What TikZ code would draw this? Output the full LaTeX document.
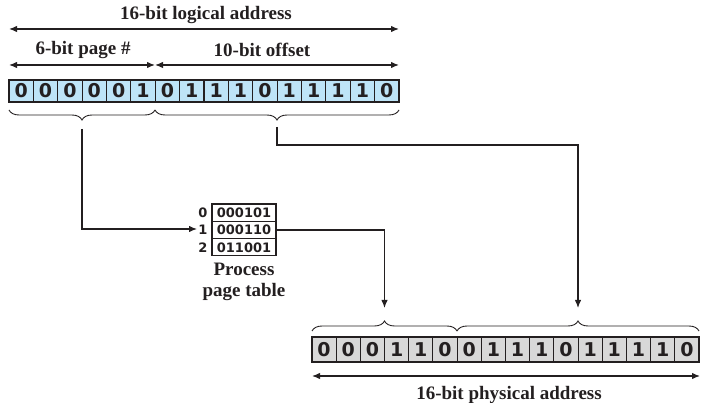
\documentclass[tikz,border=0pt]{standalone}
\usepackage{fontspec}
\setmainfont{Liberation Serif}
\newfontfamily\digitfont{DejaVu Sans}
\usetikzlibrary{arrows.meta,decorations.pathreplacing,calc}
\definecolor{cellblue}{RGB}{190,228,247}
\definecolor{cellgray}{RGB}{216,216,216}
\definecolor{inkc}{RGB}{35,31,32}
\begin{document}
\begin{tikzpicture}[x=1pt,y=-1pt,
  lbl/.style={font=\fontsize{19}{21}\selectfont\bfseries, text=inkc, inner sep=0pt},
  bitcell/.style={draw=inkc, line width=1.1pt, inner sep=0pt, font=\fontsize{19}{19}\selectfont\digitfont\bfseries, text=inkc},
  topcell/.style={bitcell, fill=cellblue, minimum width=24.375pt, minimum height=22pt},
  botcell/.style={bitcell, fill=cellgray, minimum width=24.1875pt, minimum height=25pt},
  rowcell/.style={draw=inkc, line width=1.1pt, inner sep=0pt, minimum width=64pt, minimum height=17.3pt, font=\fontsize{13}{13}\selectfont\digitfont\bfseries, text=inkc},
  idx/.style={inner sep=0pt, font=\fontsize{13}{13}\selectfont\digitfont\bfseries, text=inkc},
  dim/.style={{Latex[length=8pt,width=6.5pt]}-{Latex[length=8pt,width=6.5pt]}, line width=1.3pt, draw=inkc},
  conn/.style={-{Latex[length=8pt,width=6.5pt]}, line width=1.2pt, draw=inkc},
  bracestyle/.style={decorate, decoration={brace, amplitude=10pt}, draw=inkc, line width=0.9pt},
]
\useasboundingbox (0,0) rectangle (702,403);

% top register
\foreach \b [count=\i from 0] in {0,0,0,0,0,1,0,1,1,1,0,1,1,1,1,0}{
  \node[topcell] (t\i) at ({9+24.375*(\i+0.5)},91) {\b};
}
% bottom register
\foreach \b [count=\i from 0] in {0,0,0,1,1,0,0,1,1,1,0,1,1,1,1,0}{
  \node[botcell] (p\i) at ({312+24.1875*(\i+0.5)},349.5) {\b};
}

% dimension arrows
\coordinate (la) at (9,29);
\coordinate (lb) at (399,29);
\draw[dim] (la) -- (lb);
\node[lbl] (ltxt) at (206,15) {16-bit logical address};
\coordinate (pa) at (9,65);
\coordinate (pm) at (155,65);
\coordinate (pb) at (399,65);
\draw[dim] (pa) -- (pm);
\draw[dim] (pm) -- (pb);
\node[lbl] (pgtxt) at (83,50) {6-bit page \#};
\node[lbl] (oftxt) at (262,50) {10-bit offset};

\coordinate (qa) at (312,376);
\coordinate (qb) at (700,376);
\draw[dim] (qa) -- (qb);
\node[lbl] (phtxt) at (509,395) {16-bit physical address};

% braces top
\coordinate (b1s) at (9,110);
\coordinate (b1e) at (155,110);
\coordinate (b2e) at (399,110);
\draw[bracestyle, decoration={mirror}] (b1s) -- (b1e);
\draw[bracestyle, decoration={mirror}] (b1e) -- (b2e);
\coordinate (tip1) at (82,129);
\coordinate (tip2) at (277,127);

% braces bottom
\coordinate (c1s) at (312,331);
\coordinate (c1e) at (457,331);
\coordinate (c2e) at (699,331);
\draw[bracestyle] (c1s) -- (c1e);
\draw[bracestyle] (c1e) -- (c2e);
\coordinate (ctip1) at (384.5,308);
\coordinate (ctip2) at (578,308);

% page table
\node[rowcell] (r0) at (244,212.7) {000101};
\node[rowcell] (r1) at (244,230) {000110};
\node[rowcell] (r2) at (244,247.3) {011001};
\node[idx] (i0) at (203,212.7) {0};
\node[idx] (i1) at (203,230) {1};
\node[idx] (i2) at (203,247.3) {2};
\node[lbl, align=center] (ptl) at (244,282) {Process\\page table};

% connectors
\coordinate (i1w) at (197,229);
\draw[conn] (tip1) |- (i1w);
\draw[conn] (r1.east) -| (ctip1);
\draw[conn] (tip2) |- (400,145) -| (ctip2);
\end{tikzpicture}
\end{document}
